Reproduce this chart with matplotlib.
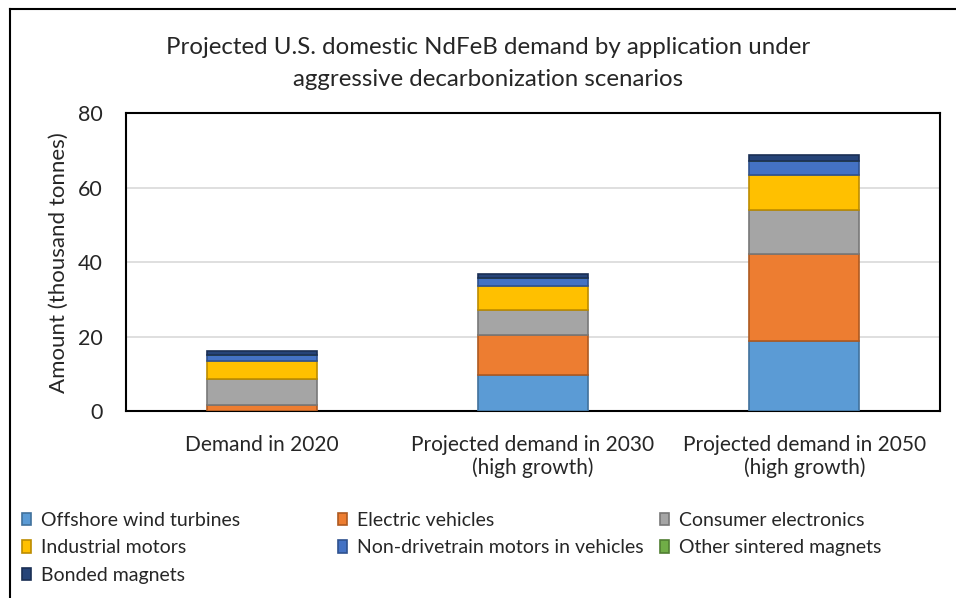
import matplotlib
matplotlib.use('agg')
from matplotlib import pyplot as plt
import numpy as np

# data (thousand tonnes)
categories = ['Demand in 2020', 'Projected demand in 2030\n(high growth)',
              'Projected demand in 2050\n(high growth)']
series = ['Offshore wind turbines', 'Electric vehicles', 'Consumer electronics',
          'Industrial motors', 'Non-drivetrain motors in vehicles',
          'Other sintered magnets', 'Bonded magnets']
offshore_wind = [0.0, 9.8, 18.8]
electric_vehicles = [1.7, 10.5, 23.4]
consumer_electronics = [7.0, 6.9, 11.8]
industrial_motors = [4.8, 6.4, 9.4]
non_drivetrain = [1.6, 2.1, 3.9]
other_sintered = [0.0, 0.0, 0.0]
bonded = [1.1, 1.2, 1.6]
values = [offshore_wind, electric_vehicles, consumer_electronics,
          industrial_motors, non_drivetrain, other_sintered, bonded]

colors = ['#5B9BD5', '#ED7D31', '#A5A5A5', '#FFC000', '#4472C4', '#70AD47', '#264478']
edges = ['#41719C', '#AE5A21', '#787878', '#BC8C00', '#2F528F', '#507E32', '#1A2F54']

plt.rcParams['font.family'] = ['Lato', 'DejaVu Sans']
txt = '#262626'

fig = plt.figure(figsize=(9.56, 5.98), dpi=100)
ax = fig.add_axes([126/956, 1-411/598, (940-126)/956, (411-113.3)/598])

x = np.arange(len(categories))
bottom = np.zeros(len(categories))
handles = []
for name, vals, c, e in zip(series, values, colors, edges):
    b = ax.bar(x, vals, 0.405, bottom=bottom, color=c, edgecolor=e,
               linewidth=1.2, label=name, zorder=3)
    handles.append(b)
    bottom += np.array(vals)

ax.set_xlim(-0.5, 2.5)
ax.set_ylim(0, 80)
ax.set_yticks([0, 20, 40, 60, 80])
ax.yaxis.grid(True, color='#D9D9D9', linewidth=1.2, zorder=0)
ax.set_xticks(x)
ax.set_xticklabels(categories, fontsize=15, color=txt, linespacing=1.15)
ax.tick_params(axis='x', length=0, pad=17)
ax.tick_params(axis='y', length=0, pad=17, labelsize=15.5, labelcolor=txt)
for s in ax.spines.values():
    s.set_color('#000000')
    s.set_linewidth(1.5)
ax.set_ylabel('Amount (thousand tonnes)', fontsize=16, color=txt, labelpad=6)

fig.text(488/956, 1-48/598, 'Projected U.S. domestic NdFeB demand by application under',
         ha='center', va='center', fontsize=17.3, color=txt)
fig.text(488/956, 1-79/598, 'aggressive decarbonization scenarios',
         ha='center', va='center', fontsize=17.3, color=txt)

# legend laid out in three fixed columns like the original
cols = [[0, 3, 6], [1, 4], [2, 5]]
xpos = [22, 338, 660]
for col, xp in zip(cols, xpos):
    leg = fig.legend([handles[i] for i in col], [series[i] for i in col],
                     loc='upper left', bbox_to_anchor=(xp/956, 1-512/598),
                     frameon=False, fontsize=14, handlelength=0.45,
                     handleheight=0.6, handletextpad=0.55, labelspacing=0.53,
                     borderaxespad=0, borderpad=0, labelcolor=txt)

# outer chart border
fig.add_artist(plt.Line2D([10/956, 10/956], [0, 1-9/598], color='#000000', lw=1.5))
fig.add_artist(plt.Line2D([10/956, 1], [1-9/598, 1-9/598], color='#000000', lw=1.5))

fig.savefig('out.png', dpi=100)
